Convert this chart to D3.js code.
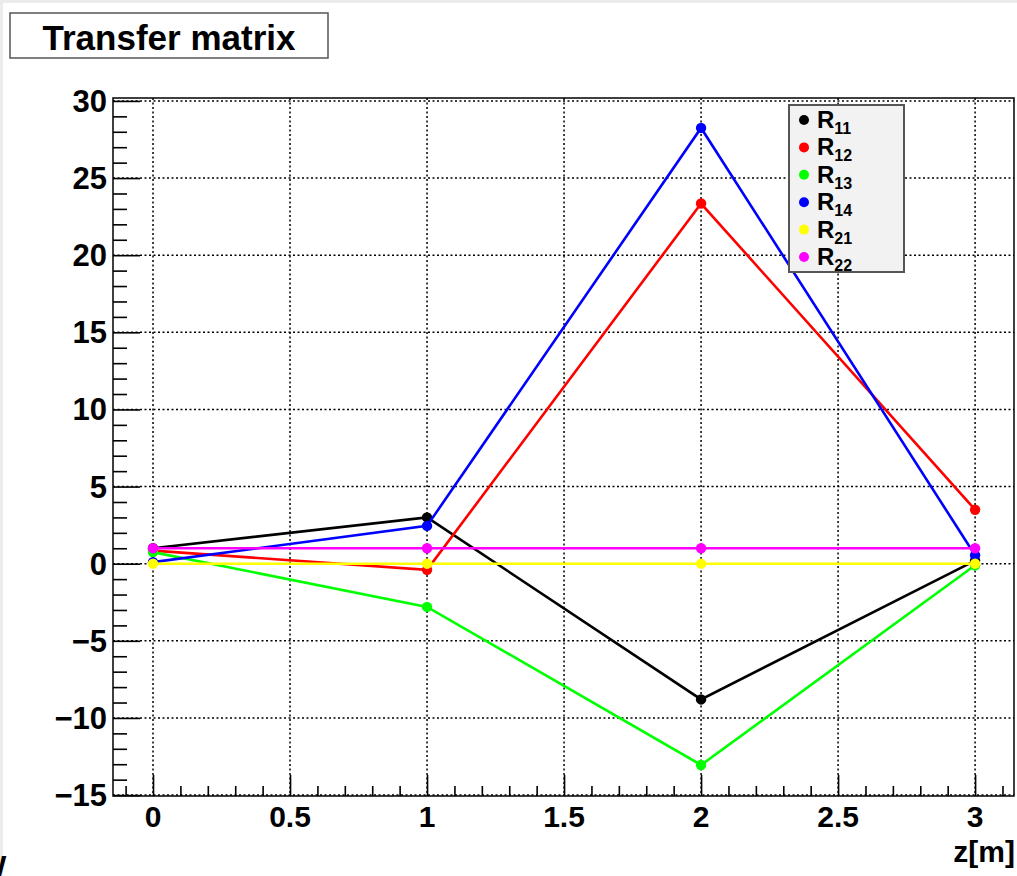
<!DOCTYPE html>
<html>
<head>
<meta charset="utf-8">
<script src="https://cdnjs.cloudflare.com/ajax/libs/d3/7.8.5/d3.min.js"></script>
<style>
  html, body { margin: 0; padding: 0; background: #ececec; }
  svg { display: block; }
</style>
</head>
<body>
<div id="chart"></div>
<script>

// chart values
var zPositions = [0, 1, 2, 3];
var seriesNames = ["R11", "R12", "R13", "R14", "R21", "R22"];
var seriesColors = ["#000000", "#ff0000", "#00ff00", "#0000ff", "#ffff00", "#ff00ff"];
var r11 = [1.0, 3.0, -8.8, 0.2];
var r12 = [0.85, -0.4, 23.35, 3.5];
var r13 = [0.75, -2.8, -13.05, -0.1];
var r14 = [0.1, 2.45, 28.25, 0.55];
var r21 = [0, 0, 0, 0];
var r22 = [1, 1, 1, 1];
var xTicks = [0, 0.5, 1, 1.5, 2, 2.5, 3];
var yTicks = [-15, -10, -5, 0, 5, 10, 15, 20, 25, 30];

var seriesValues = [r11, r12, r13, r14, r21, r22];

var attrs = {
  svgWidth: 1017,
  svgHeight: 876,
  frameLeft: 113,
  frameTop: 98,
  frameRight: 1014,
  frameBottom: 796,
  font: "'Liberation Sans', Arial, Helvetica, sans-serif"
};

var svg = d3.select("#chart").append("svg")
  .attr("width", attrs.svgWidth)
  .attr("height", attrs.svgHeight)
  .attr("font-family", attrs.font)
  .attr("font-weight", "bold");

// pad (white canvas on grey window)
svg.append("rect")
  .attr("x", 3).attr("y", 3)
  .attr("width", attrs.svgWidth - 3).attr("height", attrs.svgHeight - 3)
  .attr("fill", "#ffffff");

// glyph cut off at the lower left corner, as in the source picture
svg.append("text")
  .attr("x", -22).attr("y", 876)
  .attr("font-size", 30)
  .text("W");

var x = d3.scaleLinear().domain([-0.146, 3.142]).range([attrs.frameLeft, attrs.frameRight]);
var y = d3.scaleLinear().domain([-15.06, 30.19]).range([attrs.frameBottom, attrs.frameTop]);

// grid
var grid = svg.append("g").attr("class", "grid")
  .attr("stroke", "#000").attr("stroke-width", 1.5).attr("stroke-dasharray", "2,2.5");
grid.selectAll("line.gx").data(xTicks).enter().append("line")
  .attr("class", "gx")
  .attr("x1", d => x(d)).attr("x2", d => x(d))
  .attr("y1", attrs.frameTop).attr("y2", attrs.frameBottom);
grid.selectAll("line.gy").data(yTicks).enter().append("line")
  .attr("class", "gy")
  .attr("y1", d => y(d)).attr("y2", d => y(d))
  .attr("x1", attrs.frameLeft).attr("x2", attrs.frameRight);

// frame
svg.append("rect")
  .attr("x", attrs.frameLeft).attr("y", attrs.frameTop)
  .attr("width", attrs.frameRight - attrs.frameLeft)
  .attr("height", attrs.frameBottom - attrs.frameTop)
  .attr("fill", "none").attr("stroke", "#000").attr("stroke-width", 1.5);

// y axis (ROOT style: ticks pointing into the frame)
var yMinor = d3.range(-15, 30.5, 1).filter(v => v % 5 !== 0);
svg.append("g").attr("transform", "translate(" + attrs.frameLeft + ",0)")
  .call(d3.axisRight(y).tickValues(yTicks).tickSize(27).tickFormat(""));
svg.append("g").attr("transform", "translate(" + attrs.frameLeft + ",0)")
  .call(d3.axisRight(y).tickValues(yMinor).tickSize(14).tickFormat(""));

svg.append("g").selectAll("text").data(yTicks).enter().append("text")
  .attr("x", 107)
  .attr("y", d => y(d) + 11)
  .attr("text-anchor", "end")
  .attr("font-size", 31)
  .text(d => d3.format("")(d).replace("-", "\u2212"));

// x axis
var xMinor = d3.range(-1, 32, 1).map(v => v / 10).filter(v => Math.round(v * 10) % 5 !== 0);
svg.append("g").attr("transform", "translate(0," + attrs.frameBottom + ")")
  .call(d3.axisTop(x).tickValues(xTicks).tickSize(21).tickFormat(""));
svg.append("g").attr("transform", "translate(0," + attrs.frameBottom + ")")
  .call(d3.axisTop(x).tickValues(xMinor).tickSize(10).tickFormat(""));

svg.selectAll(".domain").remove();
svg.selectAll(".tick line").attr("stroke", "#000").attr("stroke-width", 1.6);

svg.append("g").selectAll("text").data(xTicks).enter().append("text")
  .attr("x", d => x(d))
  .attr("y", 827)
  .attr("text-anchor", "middle")
  .attr("font-size", 30)
  .text(d => d);

svg.append("text")
  .attr("x", 1015).attr("y", 862)
  .attr("text-anchor", "end")
  .attr("font-size", 30)
  .text("z[m]");

// series
var line = d3.line().x((d, i) => x(zPositions[i])).y(d => y(d));
seriesValues.forEach(function (vals, k) {
  var g = svg.append("g").attr("class", "series series-" + seriesNames[k]);
  g.append("path")
    .attr("d", line(vals))
    .attr("fill", "none")
    .attr("stroke", seriesColors[k])
    .attr("stroke-width", 2.6);
  g.selectAll("circle").data(vals).enter().append("circle")
    .attr("cx", (d, i) => x(zPositions[i]))
    .attr("cy", d => y(d))
    .attr("r", 5.2)
    .attr("fill", seriesColors[k]);
});

// legend
var legend = svg.append("g").attr("class", "legend");
legend.append("rect")
  .attr("x", 789).attr("y", 105)
  .attr("width", 115).attr("height", 167)
  .attr("fill", "#f2f2f2").attr("stroke", "#555").attr("stroke-width", 2);
var items = legend.selectAll("g.item").data(seriesNames).enter().append("g")
  .attr("class", "item")
  .attr("transform", (d, i) => "translate(804," + (120 + i * 27.4) + ")");
items.append("circle").attr("r", 5).attr("fill", (d, i) => seriesColors[i]);
var label = items.append("text")
  .attr("x", 13).attr("y", 8)
  .attr("font-size", 24);
label.append("tspan").text(d => d.charAt(0));
label.append("tspan").attr("dy", 6).attr("font-size", 16).text(d => d.slice(1));

// title box
svg.append("rect")
  .attr("x", 10).attr("y", 13).attr("width", 318).attr("height", 45)
  .attr("fill", "#ffffff").attr("stroke", "#555").attr("stroke-width", 1.5);
svg.append("text")
  .attr("x", 169).attr("y", 50)
  .attr("text-anchor", "middle")
  .attr("font-size", 35)
  .text("Transfer matrix");

</script>
</body>
</html>
